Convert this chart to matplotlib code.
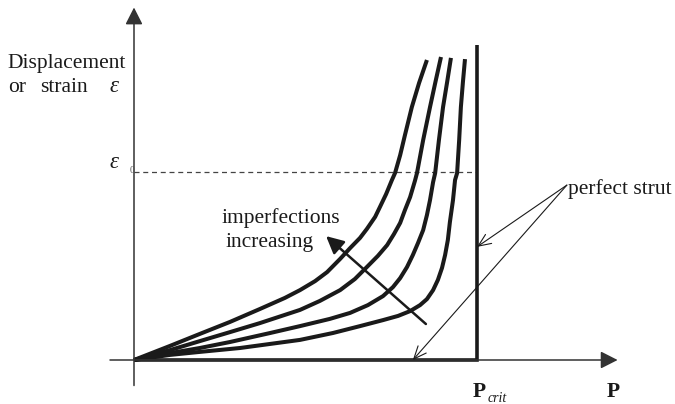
import matplotlib
matplotlib.use("Agg")
import matplotlib.pyplot as plt

# ---- data (normalised: P/Pcrit, displacement/strain) ----
c1_P = [0, .105, .192, .280, .367, .440, .484, .528, .563, .601, .630, .659, .679, .703, .717, .735, .752, .761, .776, .790, .810, .831, .854]
c1_e = [0, .047, .087, .127, .170, .207, .233, .263, .293, .337, .373, .407, .437, .477, .510, .553, .600, .623, .683, .750, .843, .923, 1.0]
c2_P = [0, .105, .192, .280, .367, .484, .542, .601, .644, .679, .711, .738, .758, .776, .790, .805, .819, .825, .843, .863, .880, .895]
c2_e = [0, .033, .063, .093, .123, .167, .197, .233, .270, .310, .347, .383, .420, .457, .500, .543, .597, .623, .733, .843, .933, 1.010]
c3_P = [0, .105, .192, .280, .397, .484, .571, .630, .682, .726, .755, .776, .796, .813, .828, .843, .854, .863, .872, .878, .889, .901, .913, .924]
c3_e = [0, .023, .040, .060, .090, .113, .137, .157, .183, .213, .243, .273, .310, .350, .390, .433, .483, .533, .593, .623, .733, .843, .927, 1.007]
c4_P = [0, .105, .192, .309, .484, .580, .659, .726, .770, .805, .834, .854, .872, .886, .898, .907, .915, .921, .930, .936, .942, .948, .953, .959, .965]
c4_e = [0, .017, .027, .040, .067, .090, .113, .133, .147, .163, .183, .203, .233, .267, .307, .350, .400, .460, .533, .600, .623, .733, .843, .927, 1.003]
perfect_P = [0, 1.0, 1.0]
perfect_e = [0, 0, 1.05]
P_crit = 1.0
eps0 = 0.627

FONT = "Liberation Serif"
plt.rcParams['font.family'] = [FONT, 'DejaVu Serif']

fig = plt.figure(figsize=(6.75, 4.04), dpi=100)
ax = fig.add_axes([0, 0, 1, 1])
ax.set_xlim(-134 / 343, 541 / 343)
ax.set_ylim(-44 / 300, 360 / 300)
ax.axis('off')

ink = '#1a1a1a'
axc = '#333333'

# axes with arrows
ax.annotate('', xy=(0, 1.175), xytext=(0, -0.085),
            arrowprops=dict(arrowstyle='-|>,head_length=0.65,head_width=0.33', color=axc,
                            lw=1.1, mutation_scale=16, shrinkA=0, shrinkB=0))
ax.annotate('', xy=(1.41, 0), xytext=(-0.07, 0),
            arrowprops=dict(arrowstyle='-|>,head_length=0.65,head_width=0.33', color=axc,
                            lw=1.1, mutation_scale=16, shrinkA=0, shrinkB=0))

# eps0 dashed line
ax.plot([0, P_crit], [eps0, eps0], ls=(0, (4, 3)), color='#444444', lw=0.9)

# curves
for xs, ys in [(c1_P, c1_e), (c2_P, c2_e), (c3_P, c3_e), (c4_P, c4_e)]:
    ax.plot(xs, ys, color=ink, lw=2.9, solid_joinstyle='round', solid_capstyle='butt')
ax.plot(perfect_P, perfect_e, color=ink, lw=2.6, solid_joinstyle='miter', solid_capstyle='butt')

# imperfections arrow
ax.annotate('', xy=(0.560, 0.413), xytext=(0.851, 0.120),
            arrowprops=dict(arrowstyle='-|>,head_length=0.7,head_width=0.35', color=ink,
                            lw=1.8, mutation_scale=15, shrinkA=0, shrinkB=0))

# perfect strut arrows
for tgt in [(1.0, 0.377), (0.813, 0.0)]:
    ax.annotate('', xy=tgt, xytext=(1.262, 0.583),
                arrowprops=dict(arrowstyle='->,head_length=0.7,head_width=0.3', color=ink,
                                lw=0.8, mutation_scale=13, shrinkA=0, shrinkB=0))

fs = 15.5
ax.text(-0.370, 0.973, 'Displacement', fontsize=fs, ha='left', va='baseline', color=ink)
ax.text(-0.367, 0.893, 'or', fontsize=fs, ha='left', va='baseline', color=ink)
ax.text(-0.274, 0.893, 'strain', fontsize=fs, ha='left', va='baseline', color=ink)
ax.text(-0.070, 0.893, 'ε', fontsize=fs + 1, ha='left', va='baseline', color=ink, style='italic')
ax.text(-0.070, 0.640, 'ε', fontsize=fs + 1, ha='left', va='baseline', color=ink, style='italic')
ax.text(-0.014, 0.623, '0', fontsize=7, ha='left', va='baseline', color='#555555')

ax.text(0.254, 0.457, 'imperfections', fontsize=fs, ha='left', va='baseline', color=ink)
ax.text(0.268, 0.377, 'increasing', fontsize=fs, ha='left', va='baseline', color=ink)
ax.text(1.265, 0.553, 'perfect strut', fontsize=fs, ha='left', va='baseline', color=ink)

ax.text(0.988, -0.123, 'P', fontsize=fs, ha='left', va='baseline', color=ink, weight='bold')
ax.text(1.032, -0.140, 'crit', fontsize=10, ha='left', va='baseline', color=ink, style='italic')
ax.text(1.379, -0.123, 'P', fontsize=fs, ha='left', va='baseline', color=ink, weight='bold')

fig.savefig('out.png', dpi=100)
